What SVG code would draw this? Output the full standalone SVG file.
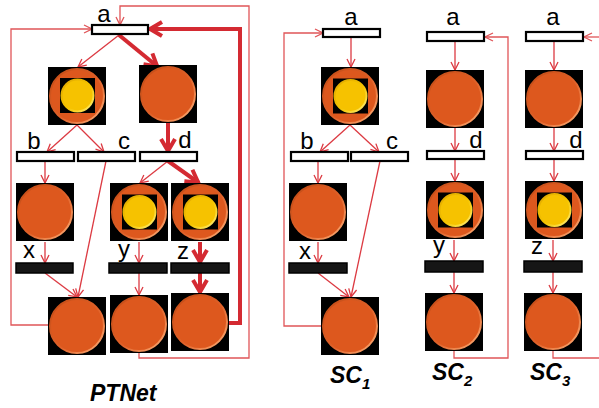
<svg xmlns="http://www.w3.org/2000/svg" xmlns:xlink="http://www.w3.org/1999/xlink" width="599" height="408" viewBox="0 0 599 408">
<style>
.t{fill:#fff;stroke:#000;stroke-width:2.2}
.tb{fill:#161616;stroke:#000;stroke-width:1.5}
.e{fill:none;stroke:#dc3a42;stroke-width:1.3}
.f{fill:none;stroke:#e05558;stroke-width:1.3}
.k{fill:none;stroke:#d42a32;stroke-width:4}
.lbl{font-family:"Liberation Sans",Arial,sans-serif;font-size:24px;fill:#000;text-anchor:middle}
.ttl{font-family:"Liberation Sans",Arial,sans-serif;font-size:23px;font-weight:bold;font-style:italic;fill:#000}
</style>
<defs>
<linearGradient id="rimO" x1="0" y1="0" x2="1" y2="1"><stop offset="0" stop-color="#c04a14"/><stop offset="0.55" stop-color="#e0622a"/><stop offset="1" stop-color="#ffb27a"/></linearGradient>
<linearGradient id="rimY" x1="0" y1="0" x2="1" y2="1"><stop offset="0" stop-color="#e0a800"/><stop offset="0.55" stop-color="#f5c400"/><stop offset="1" stop-color="#fff07a"/></linearGradient>
<g id="pl"><rect x="-29" y="-29" width="58" height="58" fill="#000"/><circle r="27" fill="#dd581e" stroke="url(#rimO)" stroke-width="2"/></g>
<g id="tk"><rect x="-17.5" y="-17.5" width="35" height="35" fill="#000"/><circle r="16" fill="#f6c200" stroke="url(#rimY)" stroke-width="2"/></g>
<marker id="ar" markerUnits="userSpaceOnUse" viewBox="0 0 10 10" refX="9" refY="5" markerWidth="10" markerHeight="10" orient="auto"><path d="M1,1 L9,5 L1,9" fill="none" stroke="#dc3a42" stroke-width="1.3"/></marker>
<marker id="arf" markerUnits="userSpaceOnUse" viewBox="0 0 10 10" refX="9" refY="5" markerWidth="10" markerHeight="10" orient="auto"><path d="M1,1 L9,5 L1,9" fill="none" stroke="#e05558" stroke-width="1.3"/></marker>
<marker id="ak" markerUnits="userSpaceOnUse" viewBox="0 0 20 20" refX="16" refY="10" markerWidth="20" markerHeight="20" orient="auto"><path d="M3,3 L15,10 L3,17" fill="none" stroke="#d42a32" stroke-width="4"/></marker>
</defs>

<g id="connectors">
<!-- PTNet -->
<path class="e" d="M119,35 L78,67" marker-end="url(#ar)"/>
<path class="k" d="M119,35 L158,67" marker-end="url(#ak)"/>
<path class="e" d="M77,125 L47,152" marker-end="url(#ar)"/>
<path class="e" d="M77,125 L104,152" marker-end="url(#ar)"/>
<path class="e" d="M45,161 L45,183" marker-end="url(#ar)"/>
<path class="e" d="M106,161 L78,297" marker-end="url(#ar)"/>
<path class="e" d="M45,242 L45,263" marker-end="url(#ar)"/>
<path class="e" d="M45,273 L77,297" marker-end="url(#ar)"/>
<path class="k" d="M168,123 L168,152" marker-end="url(#ak)"/>
<path class="e" d="M168,161 L140,183" marker-end="url(#ar)"/>
<path class="k" d="M168,161 L199,183" marker-end="url(#ak)"/>
<path class="e" d="M139,242 L139,263" marker-end="url(#ar)"/>
<path class="e" d="M139,273 L139,295" marker-end="url(#ar)"/>
<path class="k" d="M200,242 L200,263" marker-end="url(#ak)"/>
<path class="k" d="M200,273 L200,293" marker-end="url(#ak)"/>
<path class="f" d="M48,325 L11,325 L11,29 L92,29" marker-end="url(#arf)"/>
<path class="k" d="M229,323 L240,323 L240,29 L149,29" marker-end="url(#ak)"/>
<path class="f" d="M139,353 L139,358 L249,358 L249,6 L120,6 L120,25" marker-end="url(#arf)"/>
<!-- SC1 -->
<path class="e" d="M351,38 L351,67" marker-end="url(#ar)"/>
<path class="e" d="M350,125 L320,152" marker-end="url(#ar)"/>
<path class="e" d="M350,125 L379,152" marker-end="url(#ar)"/>
<path class="e" d="M318,161 L318,183" marker-end="url(#ar)"/>
<path class="e" d="M380,161 L351,297" marker-end="url(#ar)"/>
<path class="e" d="M318,242 L318,263" marker-end="url(#ar)"/>
<path class="e" d="M318,273 L349,297" marker-end="url(#ar)"/>
<path class="f" d="M321,326 L284,326 L284,33 L323,33" marker-end="url(#arf)"/>
<!-- SC2 -->
<path class="e" d="M455,41 L455,70" marker-end="url(#ar)"/>
<path class="e" d="M455,128 L455,151" marker-end="url(#ar)"/>
<path class="e" d="M455,159 L455,181" marker-end="url(#ar)"/>
<path class="e" d="M454,240 L454,261" marker-end="url(#ar)"/>
<path class="e" d="M454,272 L454,293" marker-end="url(#ar)"/>
<path class="f" d="M454,351 L454,358 L508,358 L508,37 L485,37" marker-end="url(#arf)"/>
<!-- SC3 -->
<path class="e" d="M554,41 L554,70" marker-end="url(#ar)"/>
<path class="e" d="M554,128 L554,151" marker-end="url(#ar)"/>
<path class="e" d="M554,159 L554,181" marker-end="url(#ar)"/>
<path class="e" d="M553,240 L553,261" marker-end="url(#ar)"/>
<path class="e" d="M553,272 L553,293" marker-end="url(#ar)"/>
<path class="f" d="M553,351 L553,358 L599,358"/>
<path class="f" d="M599,37 L584,37" marker-end="url(#arf)"/>
</g>

<!-- PTNet nodes -->
<g id="pt-a"><rect class="t" x="92" y="25" width="56" height="9"/><text class="lbl" x="104" y="22">a</text></g>
<g id="pt-b"><rect class="t" x="17" y="152" width="57" height="9"/><text class="lbl" x="34" y="149">b</text></g>
<g id="pt-c"><rect class="t" x="78" y="152" width="57" height="9"/><text class="lbl" x="124" y="149">c</text></g>
<g id="pt-d"><rect class="t" x="140" y="152" width="57" height="9"/><text class="lbl" x="185" y="148">d</text></g>
<g id="pt-x"><rect class="tb" x="16" y="263" width="57" height="10"/><text class="lbl" x="29" y="258">x</text></g>
<g id="pt-y"><rect class="tb" x="109" y="263" width="58" height="10"/><text class="lbl" x="124" y="257">y</text></g>
<g id="pt-z"><rect class="tb" x="171" y="263" width="58" height="10"/><text class="lbl" x="183" y="259">z</text></g>
<g id="pt-p1"><use href="#pl" x="77" y="96"/><use href="#tk" x="77.5" y="95.5"/></g>
<g id="pt-p2"><use href="#pl" x="168" y="94"/></g>
<g id="pt-p3"><use href="#pl" x="45" y="212"/></g>
<g id="pt-p4"><use href="#pl" x="139" y="212"/><use href="#tk" x="139.5" y="212"/></g>
<g id="pt-p5"><use href="#pl" x="200" y="212"/><use href="#tk" x="200.5" y="212"/></g>
<g id="pt-p6"><use href="#pl" x="77" y="326"/></g>
<g id="pt-p7"><use href="#pl" x="139" y="324"/></g>
<g id="pt-p8"><use href="#pl" x="200" y="322"/></g>
<text id="t-ptnet" class="ttl" x="90" y="401">PTNet</text>

<!-- SC1 -->
<g id="s1-a"><rect class="t" x="323" y="29" width="57" height="8"/><text class="lbl" x="351" y="25">a</text></g>
<g id="s1-b"><rect class="t" x="291" y="152" width="57" height="9"/><text class="lbl" x="307" y="149">b</text></g>
<g id="s1-c"><rect class="t" x="351" y="152" width="57" height="9"/><text class="lbl" x="392" y="149">c</text></g>
<g id="s1-x"><rect class="tb" x="289" y="263" width="58" height="10"/><text class="lbl" x="305" y="259">x</text></g>
<g id="s1-p1"><use href="#pl" x="350" y="96"/><use href="#tk" x="350.5" y="96"/></g>
<g id="s1-p2"><use href="#pl" x="318" y="212"/></g>
<g id="s1-p3"><use href="#pl" x="350" y="326"/></g>
<text id="t-sc1" class="ttl" x="330" y="383">SC<tspan font-size="15" dy="6">1</tspan></text>

<!-- SC2 -->
<g id="s2-a"><rect class="t" x="427" y="32" width="57" height="9"/><text class="lbl" x="453" y="25">a</text></g>
<g id="s2-d"><rect class="t" x="427" y="151" width="57" height="8"/><text class="lbl" x="476" y="148">d</text></g>
<g id="s2-y"><rect class="tb" x="425" y="261" width="58" height="11"/><text class="lbl" x="439" y="253">y</text></g>
<g id="s2-p1"><use href="#pl" x="455" y="99"/></g>
<g id="s2-p2"><use href="#pl" x="455" y="210"/><use href="#tk" x="455.5" y="210"/></g>
<g id="s2-p3"><use href="#pl" x="454" y="322"/></g>
<text id="t-sc2" class="ttl" x="432" y="380">SC<tspan font-size="15" dy="6">2</tspan></text>

<!-- SC3 -->
<g id="s3-a"><rect class="t" x="526" y="32" width="57" height="9"/><text class="lbl" x="553" y="25">a</text></g>
<g id="s3-d"><rect class="t" x="526" y="151" width="57" height="8"/><text class="lbl" x="576" y="148">d</text></g>
<g id="s3-z"><rect class="tb" x="524" y="261" width="58" height="11"/><text class="lbl" x="537" y="254">z</text></g>
<g id="s3-p1"><use href="#pl" x="554" y="99"/></g>
<g id="s3-p2"><use href="#pl" x="554" y="210"/><use href="#tk" x="554.5" y="210"/></g>
<g id="s3-p3"><use href="#pl" x="553" y="322"/></g>
<text id="t-sc3" class="ttl" x="530" y="380">SC<tspan font-size="15" dy="6">3</tspan></text>
</svg>
